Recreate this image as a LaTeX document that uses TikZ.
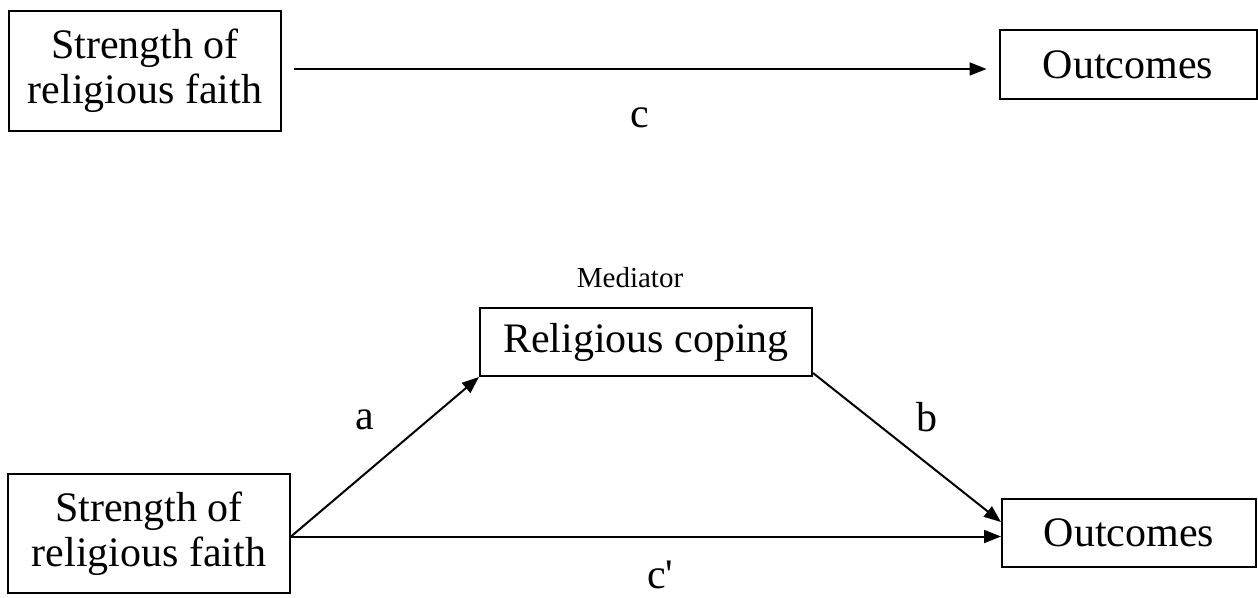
\documentclass[tikz,border=0pt]{standalone}
\usepackage{fontspec}
\setmainfont{Liberation Serif}
\usetikzlibrary{arrows.meta}
\begin{document}
\begin{tikzpicture}[x=1pt,y=-1pt,
  box/.style={draw, line width=2pt, inner sep=0pt, align=center, font=\fontsize{42}{45}\selectfont},
  arr/.style={line width=2pt, -{Triangle[length=17pt,width=13pt]}},
  lbl/.style={inner sep=0pt, font=\fontsize{42}{45}\selectfont},
  small/.style={inner sep=0pt, font=\fontsize{29}{32}\selectfont}]
\useasboundingbox (0,0) rectangle (1258,597);
\node[box, minimum width=272pt, minimum height=120pt] (tl) at (145,71) {Strength of\\religious faith};
\node[box, minimum width=257pt, minimum height=69pt] (tr) at (1128,64.5) {Outcomes};
\node[box, minimum width=332pt, minimum height=68pt] (rc) at (646,342) {Religious coping};
\node[box, minimum width=282pt, minimum height=119pt] (bl) at (149,533.5) {Strength of\\religious faith};
\node[box, minimum width=254pt, minimum height=68pt] (br) at (1129,533) {Outcomes};
\node[small] (med) at (630,278) {Mediator};
\draw[arr, shorten <=12pt, shorten >=12pt] ([yshift=2pt]tl.east) -- ([yshift=2pt]tl.east -| tr.west);
\node[lbl] (lc) at (640,118) {c};
\draw[arr] ([yshift=-3pt]bl.east) -- (rc.south west);
\draw[arr] ([yshift=4pt]rc.south east) -- ([yshift=11pt]br.west);
\draw[arr] ([yshift=-3pt]bl.east) -- ([yshift=-3pt]bl.east -| br.west);
\node[lbl] (la) at (365,420) {a};
\node[lbl] (lb) at (927,417) {b};
\node[lbl, anchor=base west] (lcp) at (647,588) {c\textquotesingle};
\end{tikzpicture}
\end{document}
